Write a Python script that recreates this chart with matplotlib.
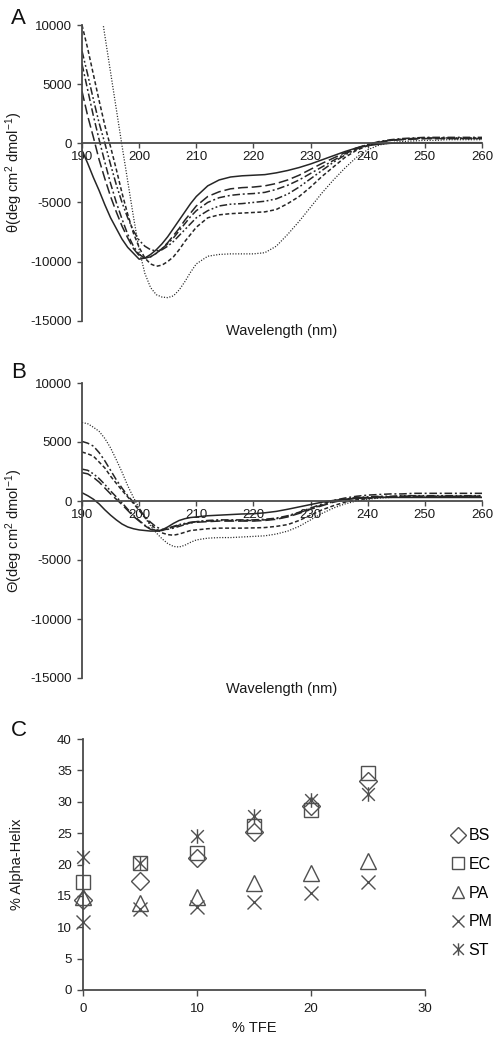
import matplotlib
matplotlib.use('Agg')
import matplotlib.pyplot as plt
from matplotlib.path import Path

plt.rcParams['font.family'] = ['Liberation Sans', 'DejaVu Sans']
plt.rcParams['mathtext.fontset'] = 'custom'
plt.rcParams['mathtext.rm'] = 'Liberation Sans'
plt.rcParams['mathtext.default'] = 'regular'
plt.rcParams['axes.unicode_minus'] = False

# ---------------- data ----------------
wavelength = [190, 191, 192, 193, 194, 195, 196, 197, 198, 199, 200,
              201, 202, 203, 204, 205, 206, 207, 208, 209, 210,
              212, 214, 216, 218, 220, 222, 224, 226, 228, 230,
              232, 234, 236, 238, 240, 242, 244, 246, 248, 250,
              252, 254, 256, 258, 260]

# Panel A
A_solid = [-600, -1700, -2900, -4000, -5200, -6300, -7200, -8100, -8800, -9300, -9800,
           -9700, -9400, -9000, -8500, -7900, -7200, -6500, -5800, -5100, -4500,
           -3600, -3100, -2850, -2750, -2700, -2650, -2500, -2300, -2050, -1750,
           -1400, -1050, -700, -400, -200, -80, 0, 30, 50, 50,
           50, 50, 50, 50, 50]
A_longdash = [4400, 2300, 500, -1400, -3000, -4500, -5800, -7000, -8000, -8900, -9500,
              -9700, -9600, -9300, -8900, -8400, -7800, -7200, -6500, -5900, -5300,
              -4500, -4100, -3850, -3750, -3700, -3600, -3400, -3100, -2700, -2200,
              -1700, -1250, -800, -400, -100, 100, 250, 300, 350, 400,
              400, 400, 400, 400, 400]
A_dashdot = [6700, 4500, 2300, 300, -1600, -3400, -5000, -6400, -7700, -8700, -9400,
             -9700, -9600, -9300, -8900, -8500, -8000, -7400, -6800, -6200, -5700,
             -5000, -4600, -4400, -4300, -4250, -4150, -3900, -3550, -3100, -2550,
             -2000, -1450, -900, -450, -100, 150, 300, 400, 450, 500,
             500, 500, 500, 500, 500]
A_dashdotdot = [7800, 5800, 3700, 1700, 0, -1800, -3500, -5000, -6300, -7400, -8200,
                -8700, -9000, -9100, -9000, -8700, -8300, -7800, -7300, -6800, -6300,
                -5700, -5300, -5150, -5100, -5000, -4900, -4700, -4300, -3700, -3000,
                -2300, -1600, -1000, -500, -150, 100, 250, 350, 400, 450,
                450, 450, 450, 450, 450]
A_shortdash = [10000, 8000, 5800, 3600, 1500, -300, -2200, -4200, -6000, -7600, -8800,
               -9700, -10200, -10400, -10300, -10000, -9600, -9000, -8300, -7700, -7100,
               -6300, -6050, -5950, -5900, -5850, -5800, -5600, -5100, -4500, -3700,
               -2800, -2000, -1200, -600, -200, 100, 250, 350, 400, 400,
               400, 400, 400, 400, 400]
A_dotted = [21000, 18500, 15500, 12300, 9100, 6000, 2900, -200, -3200, -6200, -9000,
            -11000, -12200, -12800, -13000, -13050, -12900, -12400, -11700, -10900, -10200,
            -9550, -9400, -9350, -9350, -9350, -9250, -8700, -7700, -6600, -5400,
            -4200, -3100, -2100, -1200, -550, -150, 50, 150, 200, 250,
            250, 300, 300, 300, 300]

# Panel B
B_solid = [700, 450, 150, -250, -750, -1200, -1600, -1950, -2200, -2350, -2450,
           -2500, -2550, -2550, -2450, -2200, -1900, -1650, -1500, -1400, -1350,
           -1250, -1200, -1150, -1100, -1080, -1000, -880, -700, -500, -300,
           -100, 50, 150, 220, 260, 300, 300, 300, 300, 300,
           300, 300, 300, 300, 300]
B_longdash = [2400, 2300, 2000, 1600, 1100, 600, 150, -300, -800, -1300, -1700,
              -2100, -2400, -2550, -2500, -2350, -2200, -2050, -1950, -1850, -1800,
              -1750, -1700, -1700, -1700, -1700, -1650, -1550, -1350, -1050, -700,
              -400, -100, 100, 250, 300, 350, 350, 400, 400, 400,
              400, 400, 400, 400, 400]
B_dashdot = [5050, 4900, 4650, 4100, 3400, 2600, 1800, 1100, 450, -100, -700,
             -1300, -1800, -2200, -2400, -2400, -2300, -2150, -2000, -1850, -1750,
             -1650, -1600, -1600, -1600, -1600, -1550, -1450, -1250, -950, -600,
             -250, 50, 250, 400, 500, 550, 600, 600, 650, 650,
             650, 650, 650, 650, 650]
B_dashdotdot = [2700, 2600, 2300, 1900, 1400, 850, 350, -150, -700, -1200, -1650,
                -2050, -2350, -2500, -2450, -2300, -2150, -2000, -1900, -1800, -1750,
                -1700, -1650, -1650, -1650, -1650, -1600, -1500, -1300, -1000, -650,
                -350, -50, 150, 300, 350, 400, 400, 450, 450, 450,
                450, 450, 450, 450, 450]
B_shortdash = [4150, 4000, 3800, 3300, 2800, 2100, 1500, 900, 350, -200, -800,
               -1400, -1950, -2400, -2700, -2850, -2900, -2800, -2650, -2500, -2450,
               -2350, -2300, -2300, -2300, -2280, -2250, -2150, -2000, -1650, -1200,
               -750, -400, -100, 100, 200, 300, 350, 400, 400, 400,
               400, 400, 400, 400, 400]
B_dotted = [6650, 6550, 6250, 5900, 5300, 4500, 3500, 2450, 1300, 300, -600,
            -1400, -2100, -2700, -3200, -3600, -3850, -3900, -3750, -3500, -3300,
            -3150, -3100, -3100, -3050, -3000, -2950, -2800, -2550, -2150, -1600,
            -1050, -600, -250, 0, 150, 250, 300, 350, 350, 350,
            350, 350, 350, 350, 350]

cd_ticks_x = [190, 200, 210, 220, 230, 240, 250, 260]
cd_ticks_y = [-15000, -10000, -5000, 0, 5000, 10000]

# Panel C
tfe = [0, 5, 10, 15, 20, 25]
helix_BS = [14.4, 17.4, 21.1, 25.2, 29.4, 33.3]
helix_EC = [17.2, 20.2, 21.8, 26.2, 28.7, 34.6]
helix_PA = [14.8, 13.8, 14.9, 17.0, 18.7, 20.6]
helix_PM = [10.9, 12.9, 13.3, 14.1, 15.5, 17.2]
helix_ST = [21.2, 20.3, 24.5, 27.8, 30.2, 31.3]
species = ['BS', 'EC', 'PA', 'PM', 'ST']
c_ticks_x = [0, 10, 20, 30]
c_ticks_y = [0, 5, 10, 15, 20, 25, 30, 35, 40]

# ---------------- figure ----------------
W, H = 502, 1044
fig = plt.figure(figsize=(W / 100, H / 100), dpi=100)

def frac(left, top, right, bottom):
    return [left / W, 1 - bottom / H, (right - left) / W, (bottom - top) / H]

axis_col = '#4a4a4a'
line_col = '#262626'
fs_tick = 9.5

styles = [
    ('solid', dict(linestyle='-', lw=1.1)),
    ('longdash', dict(linestyle=(0, (6.5, 2.5)), lw=1.1)),
    ('dashdot', dict(linestyle=(0, (5, 1.8, 1.3, 1.8)), lw=1.1)),
    ('dashdotdot', dict(linestyle=(0, (5, 1.6, 1.2, 1.6, 1.2, 1.6)), lw=1.1)),
    ('shortdash', dict(linestyle=(0, (2.6, 1.6)), lw=1.1)),
    ('dotted', dict(linestyle=(0, (0.9, 1.3)), lw=0.9)),
]

def cd_panel(rect, series, ylabel):
    ax = fig.add_axes(rect)
    for (name, st), y in zip(styles, series):
        ax.plot(wavelength, y, color=line_col, **st)
    ax.set_xlim(190, 260)
    ax.set_ylim(-15000, 10000)
    for s in ['top', 'right']:
        ax.spines[s].set_visible(False)
    ax.spines['bottom'].set_position(('data', 0))
    ax.spines['bottom'].set_color(axis_col)
    ax.spines['left'].set_color(axis_col)
    ax.spines['bottom'].set_linewidth(1.3)
    ax.spines['left'].set_linewidth(1.3)
    ax.set_xticks(cd_ticks_x)
    ax.set_xticklabels([str(v) for v in cd_ticks_x])
    ax.set_yticks(cd_ticks_y)
    ax.set_yticklabels([str(v) for v in cd_ticks_y])
    ax.tick_params(axis='both', direction='out', length=3.5, width=1.0,
                   color=axis_col, labelsize=fs_tick, labelcolor='#1a1a1a')
    ax.tick_params(axis='x', pad=2)
    ax.tick_params(axis='y', pad=4)
    ax.set_ylabel(ylabel, fontsize=10.5, color='#1a1a1a')
    ax.yaxis.set_label_coords(-0.143, 0.5)
    ax.set_xlabel('Wavelength (nm)', fontsize=10.5, color='#1a1a1a')
    ax.xaxis.set_label_coords(0.5, -0.012)
    return ax

axA = cd_panel(frac(82, 25, 482, 320.7),
               [A_solid, A_longdash, A_dashdot, A_dashdotdot, A_shortdash, A_dotted],
               r'θ(deg cm$^2$ dmol$^{-1}$)')
axB = cd_panel(frac(82, 383, 482, 678),
               [B_solid, B_longdash, B_dashdot, B_dashdotdot, B_shortdash, B_dotted],
               r'Θ(deg cm$^2$ dmol$^{-1}$)')

# Panel C
axC = fig.add_axes(frac(83, 739, 425, 990))
star = Path([(-1, -1), (1, 1), (-1, 1), (1, -1), (0, -1.15), (0, 1.15)],
            [Path.MOVETO, Path.LINETO, Path.MOVETO, Path.LINETO, Path.MOVETO, Path.LINETO])
mk_col = '#505050'
marker_specs = [('D', 9), ('s', 9.5), ('^', 11), ('x', 10.5), (star, 10.5)]
for name, vals, (m, ms) in zip(species, [helix_BS, helix_EC, helix_PA, helix_PM, helix_ST], marker_specs):
    axC.plot(tfe, vals, linestyle='none', marker=m, markersize=ms,
             markerfacecolor='none', markeredgecolor=mk_col, markeredgewidth=1.0,
             label=name, clip_on=False)
axC.set_xlim(0, 30)
axC.set_ylim(0, 40)
for s in ['top', 'right']:
    axC.spines[s].set_visible(False)
for s in ['left', 'bottom']:
    axC.spines[s].set_color(axis_col)
    axC.spines[s].set_linewidth(1.3)
axC.set_xticks(c_ticks_x)
axC.set_xticklabels([str(v) for v in c_ticks_x])
axC.set_yticks(c_ticks_y)
axC.set_yticklabels([str(v) for v in c_ticks_y])
axC.tick_params(axis='both', direction='out', length=4, width=1.0,
                color=axis_col, labelsize=fs_tick, labelcolor='#1a1a1a')
axC.tick_params(axis='x', pad=5)
axC.tick_params(axis='y', pad=4)
axC.set_xlabel('% TFE', fontsize=10.5, color='#1a1a1a')
axC.xaxis.set_label_coords(0.5, -0.125)
axC.set_ylabel('% Alpha-Helix', fontsize=10.5, color='#1a1a1a')
axC.yaxis.set_label_coords(-0.172, 0.5)
leg = axC.legend(loc='center', bbox_to_anchor=(1.14, 0.386), frameon=False,
                 fontsize=11.5, handlelength=0.6, handletextpad=0.35,
                 labelspacing=0.85, borderpad=0, markerscale=0.85)

# panel letters
for letter, y in [('A', 19), ('B', 373), ('C', 730)]:
    fig.text(11 / W, 1 - y / H, letter, fontsize=16, ha='left', va='center', color='#111')

fig.savefig('out.png', dpi=100)
